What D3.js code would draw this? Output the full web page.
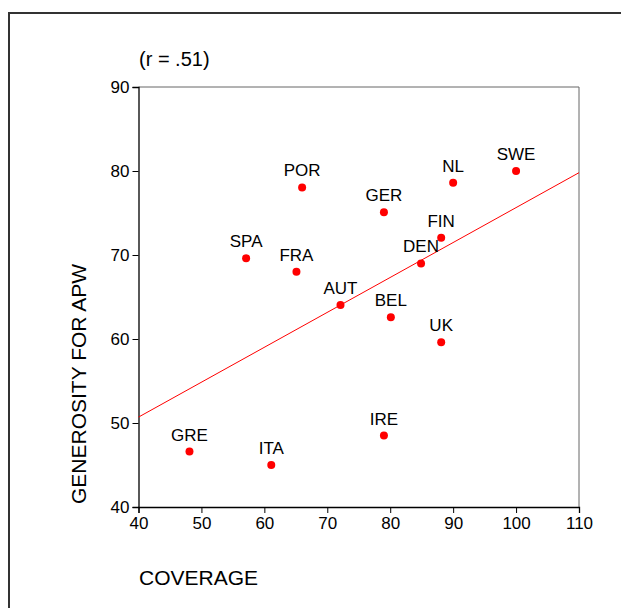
<!DOCTYPE html>
<html><head><meta charset="utf-8">
<script src="https://cdn.jsdelivr.net/npm/d3@7"></script>
<style>body{margin:0;background:#fff;}svg{display:block;font-family:Arial,"Liberation Sans",sans-serif;}</style>
</head><body>
<script>
const countries = ["SWE","NL","GER","FIN","DEN","BEL","UK","POR","SPA","FRA","AUT","IRE","GRE","ITA"];
const coverage  = [100, 90, 79, 88.1, 84.9, 80.1, 88.1, 66, 57.1, 65.1, 72.1, 79, 48.1, 61.1];
const generosity= [80, 78.6, 75.1, 72.05, 69.0, 62.6, 59.6, 78.05, 69.6, 68.0, 64.05, 48.5, 46.6, 45.0];
const xTicks = [40,50,60,70,80,90,100,110];
const yTicks = [40,50,60,70,80,90];
const fitX = [40, 110];
const fitY = [50.7, 79.8];

const W=621,H=608;
const FONT="Arial, 'Liberation Sans', sans-serif";
const svg=d3.select("body").append("svg").attr("width",W).attr("height",H);
svg.append("rect").attr("x",9).attr("y",13).attr("width",W+10).attr("height",H+10)
  .attr("fill","none").attr("stroke","#333").attr("stroke-width",2);

const x=d3.scaleLinear().domain([40,110]).range([138.5,579]);
const y=d3.scaleLinear().domain([40,90]).range([507,87]);

// top/right box
svg.append("line").attr("x1",x(40)).attr("x2",x(110)).attr("y1",y(90)).attr("y2",y(90)).attr("stroke","#666");
svg.append("line").attr("x1",x(110)).attr("x2",x(110)).attr("y1",y(90)).attr("y2",y(40)).attr("stroke","#666");

const xa=svg.append("g").attr("transform",`translate(0,${y(40)})`)
  .call(d3.axisBottom(x).tickValues(xTicks).tickSize(6).tickPadding(4));
const ya=svg.append("g").attr("transform",`translate(${x(40)},0)`)
  .call(d3.axisLeft(y).tickValues(yTicks).tickSize(6).tickPadding(3));
[xa,ya].forEach(a=>{a.selectAll("text").attr("font-size",17).attr("fill","#000").attr("font-family",FONT);
  a.select(".domain").attr("stroke","#000").attr("stroke-width",1.3);
  a.selectAll(".tick line").attr("stroke","#000");});

// fit line
svg.append("line").attr("x1",x(fitX[0])).attr("y1",y(fitY[0])).attr("x2",x(fitX[1])).attr("y2",y(fitY[1]))
  .attr("stroke","#f00").attr("stroke-width",1);

const data=countries.map((c,i)=>({c,x:coverage[i],y:generosity[i]}));
svg.selectAll("circle.pt").data(data).enter().append("circle").attr("class","pt")
  .attr("cx",d=>x(d.x)).attr("cy",d=>y(d.y)).attr("r",4).attr("fill","#f00");
svg.selectAll("text.lbl").data(data).enter().append("text").attr("class","lbl")
  .attr("x",d=>x(d.x)).attr("y",d=>y(d.y)-11).attr("text-anchor","middle")
  .attr("font-size",17).attr("fill","#000").text(d=>d.c);

svg.append("text").attr("x",139).attr("y",66).attr("font-size",20).text("(r = .51)");
svg.append("text").attr("x",139).attr("y",585).attr("font-size",21).text("COVERAGE");
svg.append("text").attr("transform","translate(86,384) rotate(-90)").attr("text-anchor","middle")
  .attr("font-size",21).text("GENEROSITY FOR APW");
</script>
</body></html>
